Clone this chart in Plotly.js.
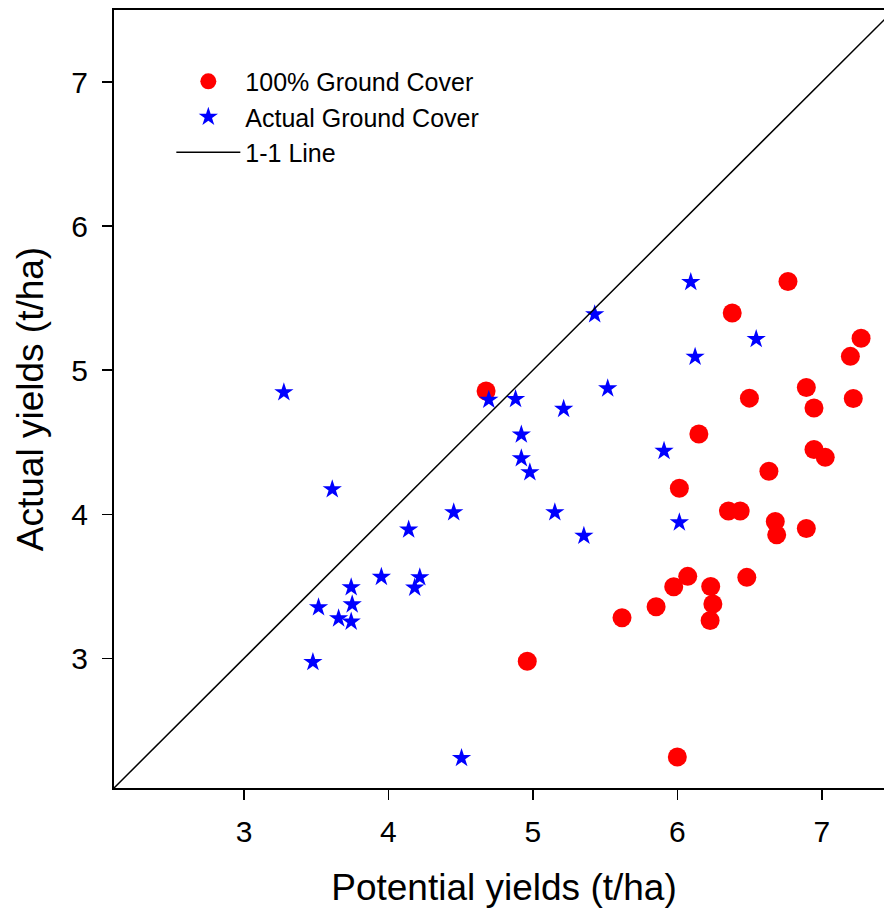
<!DOCTYPE html>
<html>
<head>
<meta charset="utf-8">
<script src="https://cdn.plot.ly/plotly-3.0.1.min.js"></script>
<style>
html, body { margin: 0; padding: 0; overflow: hidden; background: #fff; }
#chart { width: 900px; height: 911px; }
</style>
</head>
<body>
<div id="chart"></div>
<script>
// 100% Ground Cover (red circles)
const fullCoverPotential = [4.676, 6.766, 6.380, 7.272, 7.198, 6.893, 6.499, 7.218, 6.946, 6.149,
  6.946, 7.024, 6.634, 6.014, 6.354, 6.435, 6.678, 6.688, 6.893, 4.961,
  5.617, 5.853, 5.975, 6.072, 6.000, 6.231, 6.246, 6.227, 6.481];
const fullCoverActual = [4.855, 5.615, 5.397, 5.221, 5.096, 4.880, 4.806, 4.804, 4.738, 4.557,
  4.449, 4.395, 4.298, 4.180, 4.022, 4.022, 3.950, 3.857, 3.901, 2.980,
  3.282, 3.358, 3.497, 3.569, 2.315, 3.498, 3.377, 3.263, 3.562];

// Actual Ground Cover (blue stars)
const actualCoverPotential = [6.093, 5.428, 6.546, 6.123, 5.518, 4.695, 4.880, 5.213, 4.920, 4.920,
  4.979, 5.908, 4.452, 5.152, 5.353, 6.014, 3.611, 4.140, 3.951, 4.217,
  4.182, 3.742, 3.749, 3.516, 3.655, 3.742, 3.477, 4.506, 3.276];
const actualCoverActual = [5.611, 5.388, 5.216, 5.093, 4.873, 4.794, 4.799, 4.731, 4.553, 4.388,
  4.291, 4.439, 4.013, 4.013, 3.850, 3.943, 4.173, 3.894, 3.565, 3.562,
  3.490, 3.493, 3.374, 3.354, 3.277, 3.254, 2.974, 2.308, 4.846];

// 1-1 line endpoints
const oneToOne = [2.1, 7.5];
const tickValues = [3, 4, 5, 6, 7];
const tickLabels = ['3', '4', '5', '6', '7'];

const FONT = 'Liberation Sans, Arial, Helvetica, sans-serif';

const traces = [
  {
    x: fullCoverPotential, y: fullCoverActual, type: 'scatter', mode: 'markers',
    name: '100% Ground Cover',
    marker: { symbol: 'circle', color: '#ff0000', size: 19, line: { width: 0 } }
  },
  {
    x: actualCoverPotential, y: actualCoverActual, type: 'scatter', mode: 'markers',
    name: 'Actual Ground Cover',
    marker: { symbol: 'star', color: '#0000ff', size: 14.5, line: { width: 0 } }
  },
  {
    x: oneToOne, y: oneToOne, type: 'scatter', mode: 'lines',
    name: '1-1 Line',
    line: { color: '#000000', width: 1.5 }
  }
];

const axisCommon = {
  showgrid: false, zeroline: false,
  showline: true, mirror: true, linecolor: '#000', linewidth: 2,
  ticks: 'outside', ticklen: 10, tickwidth: 1.5, tickcolor: '#000',
  tickvals: tickValues, ticktext: tickLabels,
  tickfont: { family: FONT, size: 30, color: '#000' }
};

const layout = {
  width: 900, height: 911,
  margin: { l: 114, r: 6, t: 10, b: 123 },
  paper_bgcolor: '#fff', plot_bgcolor: '#fff',
  showlegend: true,
  legend: {
    x: 0.0735, y: 0.9376, xanchor: 'left', yanchor: 'top',
    bgcolor: 'rgba(0,0,0,0)', borderwidth: 0,
    itemwidth: 64,
    font: { family: FONT, size: 25, color: '#000' },
    tracegroupgap: 0
  },
  xaxis: Object.assign({}, axisCommon, {
    range: oneToOne,
    ticklabelstandoff: 6,
    title: { text: 'Potential yields (t/ha)', font: { family: FONT, size: 37, color: '#000' }, standoff: 27 }
  }),
  yaxis: Object.assign({}, axisCommon, {
    range: oneToOne,
    ticklabelstandoff: 8,
    title: { text: 'Actual yields (t/ha)', font: { family: FONT, size: 37, color: '#000' }, standoff: 16 }
  })
};

Plotly.newPlot('chart', traces, layout, { displayModeBar: false, staticPlot: true });
</script>
</body>
</html>
